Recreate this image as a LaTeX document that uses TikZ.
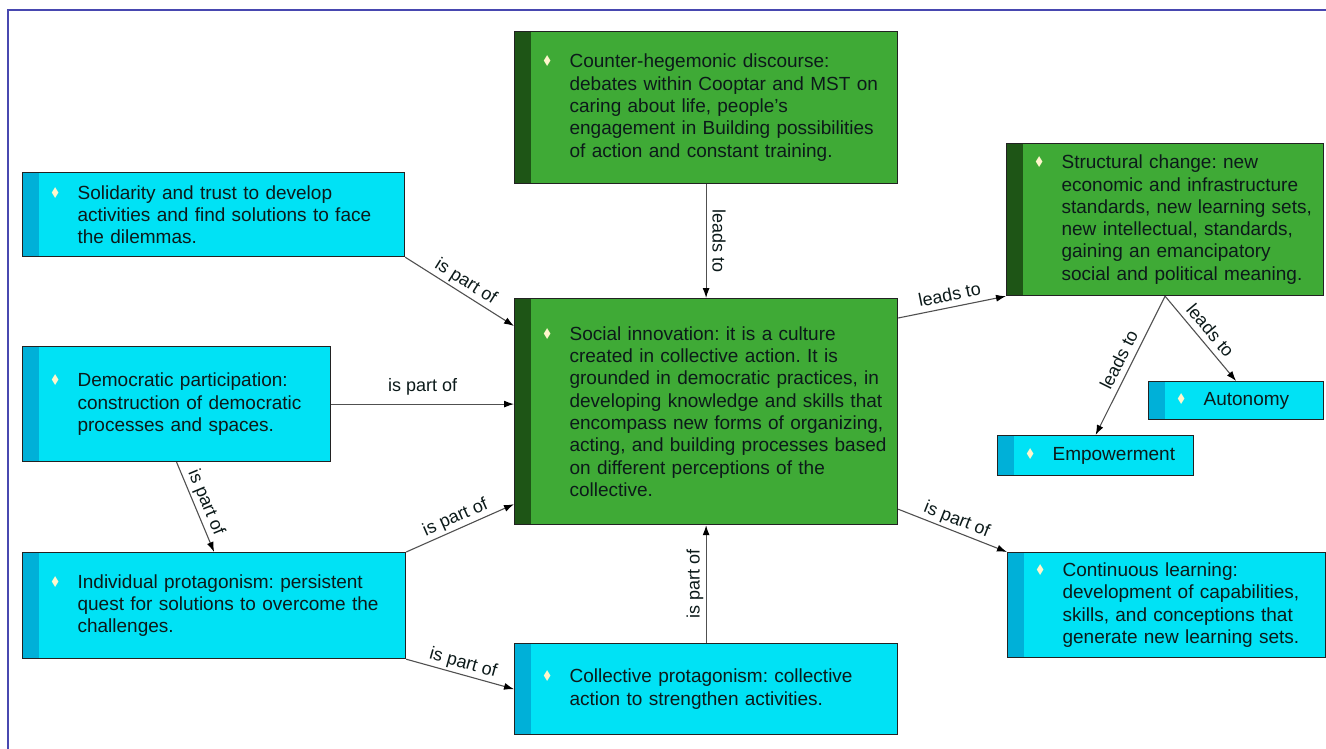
\documentclass[tikz,border=0pt]{standalone}
\usepackage{fontspec}
\setmainfont{Liberation Sans}
\newfontfamily\bulfont{DejaVu Sans}
\usetikzlibrary{arrows.meta}
\frenchspacing

\definecolor{cyanfill}{RGB}{0,226,245}
\definecolor{cyanstrip}{RGB}{0,176,216}
\definecolor{greenfill}{RGB}{63,170,54}
\definecolor{greenstrip}{RGB}{30,85,22}
\definecolor{boxline}{RGB}{34,34,34}
\definecolor{linecol}{RGB}{80,80,80}
\definecolor{textcol}{RGB}{12,26,26}
\definecolor{bulcol}{RGB}{255,246,204}
\definecolor{framecol}{RGB}{72,72,176}

% bullet in front of the first line, text indented
\newcommand{\bul}[1]{\hspace*{55pt}\llap{\raisebox{1pt}{\textcolor{bulcol}{\bulfont\fontsize{15}{15}\selectfont\scalebox{0.8}[1]{\symbol{"2666}}}}\hspace{17pt}}%
  \parbox[t]{\dimexpr\linewidth-55pt\relax}{\raggedright #1}}

\begin{document}
\begin{tikzpicture}[x=1pt, y=-1pt,
  box/.style={draw=boxline, line width=1.2pt, inner sep=0pt, anchor=north west,
    align=left, font=\fontsize{19}{22.3}\selectfont, text=textcol},
  cyanbox/.style={box, fill=cyanfill, path picture={\fill[cyanstrip]
    (path picture bounding box.north west) rectangle ([xshift=16pt]path picture bounding box.south west);}},
  greenbox/.style={box, fill=greenfill, path picture={\fill[greenstrip]
    (path picture bounding box.north west) rectangle ([xshift=16pt]path picture bounding box.south west);}},
  line/.style={draw=linecol, line width=1.1pt, -{Latex[length=10pt,width=7pt,color=black]}},
  lbl/.style={font=\fontsize{18}{20}\selectfont, text=textcol, inner sep=2pt,
    text depth=4pt, sloped, above},
  frame/.style={draw=framecol, line width=1.6pt}]
\useasboundingbox (0,0) rectangle (1326,749);
\draw[frame] (8,749) -- (8,10) -- (1326,10);

\node[greenbox, text width=383pt, minimum height=152pt] (cnt) at (514,31)
  {\bul{Counter-hegemonic discourse:\\ debates within Cooptar and MST on\\ caring about life, people’s\\ engagement in Building possibilities\\ of action and constant training.}};
\node[greenbox, text width=383pt, minimum height=226pt] (soc) at (514,298)
  {\bul{Social innovation: it is a culture\\ created in collective action. It is\\ grounded in democratic practices, in\\ developing knowledge and skills that\\ encompass new forms of organizing,\\ acting, and building processes based\\ on different perceptions of the\\ collective.}};
\node[greenbox, text width=317pt, minimum height=152pt] (str) at (1006,143)
  {\bul{Structural change: new\\ economic and infrastructure\\ standards, new learning sets,\\ new intellectual, standards,\\ gaining an emancipatory\\ social and political meaning.}};

\node[cyanbox, text width=382pt, minimum height=84pt] (sol) at (22,172)
  {\bul{Solidarity and trust to develop\\ activities and find solutions to face\\ the dilemmas.}};
\node[cyanbox, text width=308pt, minimum height=115pt] (dem) at (22,346)
  {\bul{Democratic participation:\\ construction of democratic\\ processes and spaces.}};
\node[cyanbox, text width=383pt, minimum height=106pt] (ind) at (22,552)
  {\bul{Individual protagonism: persistent\\ quest for solutions to overcome the\\ challenges.}};
\node[cyanbox, text width=383pt, minimum height=91pt] (col) at (514,643)
  {\bul{Collective protagonism: collective\\ action to strengthen activities.}};
\node[cyanbox, text width=175pt, minimum height=38pt] (aut) at (1148,381) {\bul{Autonomy}};
\node[cyanbox, text width=196pt, minimum height=40pt] (emp) at (997,435) {\bul{Empowerment}};
\node[cyanbox, text width=318pt, minimum height=105pt] (con) at (1007,552)
  {\bul{Continuous learning:\\ development of capabilities,\\ skills, and conceptions that\\ generate new learning sets.}};

\draw[line] (cnt.south) -- node[lbl] {leads to} (soc.north);
\draw[line] (sol.south east) -- node[lbl] {is part of} ([yshift=-28pt]soc.north west);
\draw[line] (dem.east) -- node[lbl, above=6pt] {is part of} (soc.west |- dem.east);
\draw[line] (dem.south) -- node[lbl] {is part of} (ind.north);
\draw[line] (ind.north east) -- node[lbl] {is part of} ([yshift=21pt]soc.south west);
\draw[line] (ind.south east) -- node[lbl] {is part of} (col.west);
\draw[line] (col.north) -- node[lbl] {is part of} (soc.south);
\draw[line] ([yshift=-20pt]soc.north east) -- node[lbl] {leads to} (str.south west);
\draw[line] ([yshift=16pt]soc.south east) -- node[lbl] {is part of} (con.north west);
\draw[line] (str.south) -- node[lbl] {leads to} (emp.north);
\draw[line] (str.south) -- node[lbl] {leads to} (aut.north);

\end{tikzpicture}
\end{document}
